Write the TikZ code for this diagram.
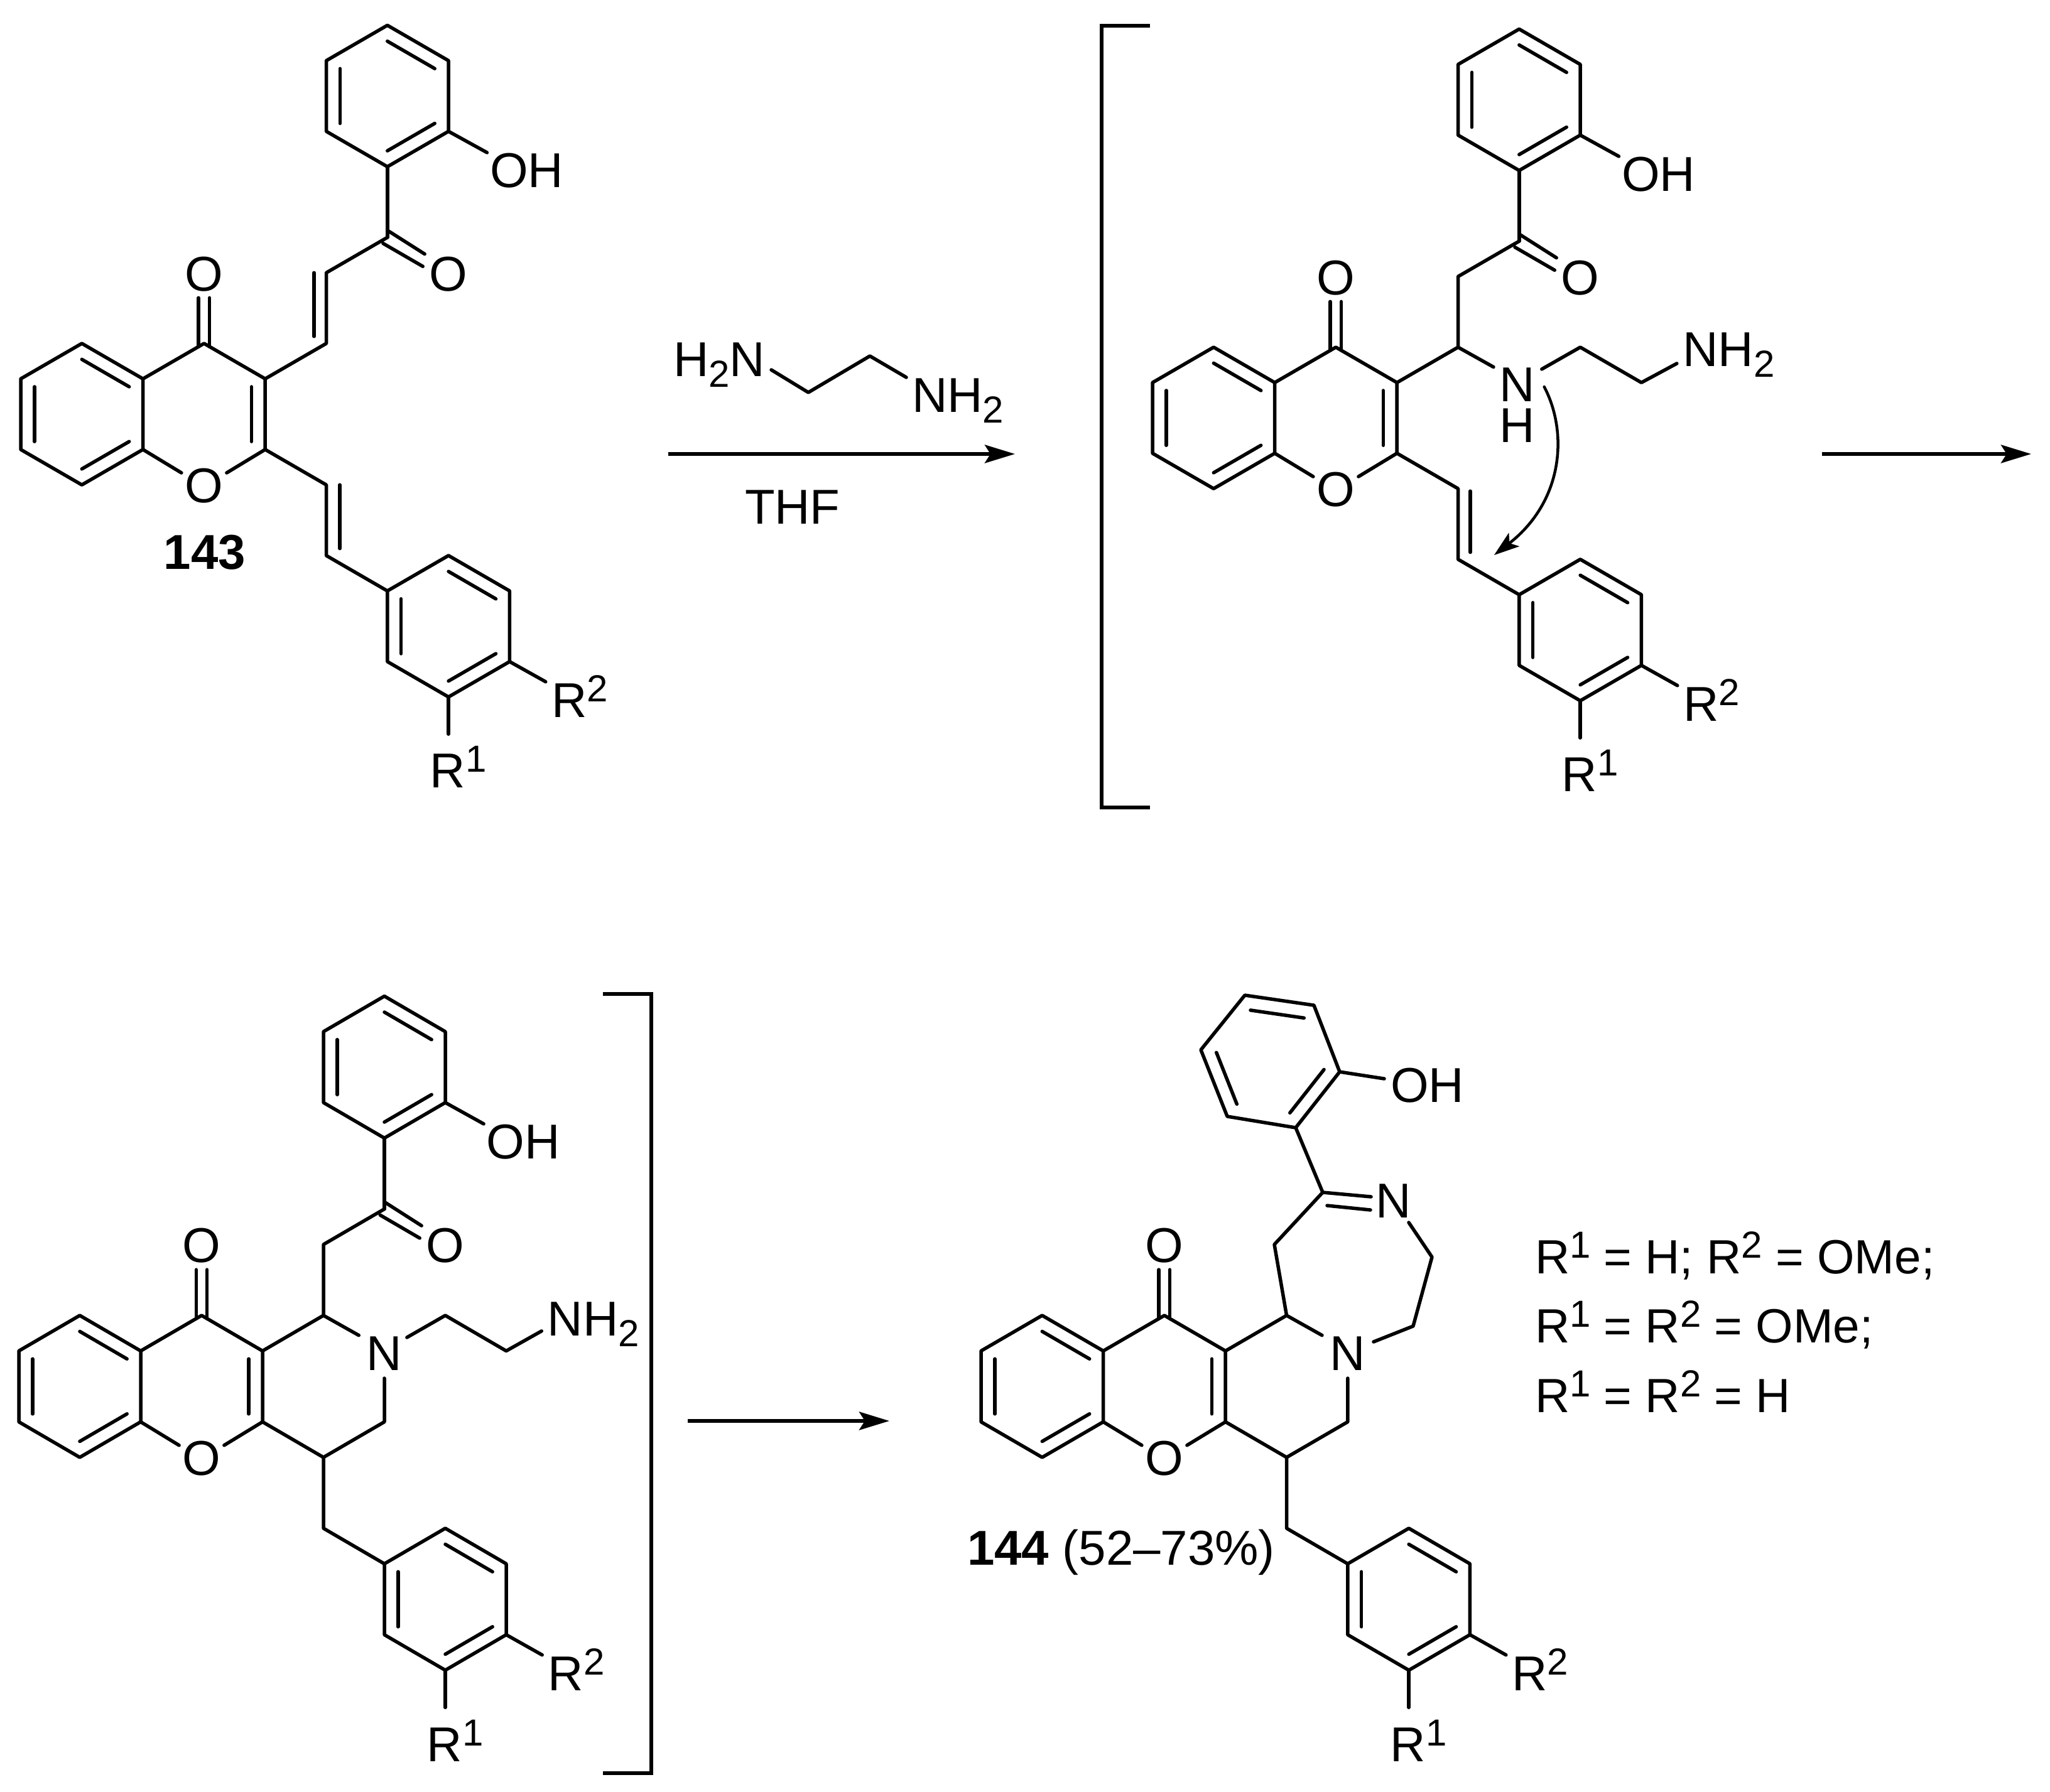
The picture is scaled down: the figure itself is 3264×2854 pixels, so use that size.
\documentclass[tikz,border=0pt]{standalone}
\usepackage{fontspec}
\setmainfont{Liberation Sans}
\usetikzlibrary{calc,arrows.meta}
\newcommand\chemsize{\fontsize{78}{86}\selectfont}
\newcommand\smallsize{\fontsize{60}{60}\selectfont}
\newcommand\upnum[1]{\raisebox{25pt}{\smallsize #1}}
\newcommand\lownum[1]{\raisebox{-17pt}{\smallsize #1}}
\tikzset{
  bond/.style={line width=5.5pt,line cap=round,line join=round},
  lab/.style={inner sep=0pt,outer sep=0pt,anchor=base west,font=\chemsize},
  clab/.style={inner sep=0pt,outer sep=0pt,anchor=base,font=\chemsize},
  rxn/.style={line width=5.5pt,-{Stealth[length=48pt,width=29pt,inset=9pt]}},
  brk/.style={line width=5.5pt,line cap=butt,line join=miter},
  latt/.style={x=97.3pt,y=-56.3pt}
}
\newcommand\hexin[3]{\draw[bond] ($(#1)!.225!(#3)$) -- ($(#2)!.225!(#3)$);}
% fused benzo + pyranone core
\newcommand\chromcore[1]{
  \coordinate (#1a1) at (0,1); \coordinate (#1a2) at (1,0); \coordinate (#1a3) at (2,1);
  \coordinate (#1a4) at (2,3); \coordinate (#1a5) at (1,4); \coordinate (#1a6) at (0,3);
  \coordinate (#1c4) at (3,0); \coordinate (#1c3) at (4,1); \coordinate (#1c2) at (4,3);
  \coordinate (#1ca) at (1,2); \coordinate (#1cb) at (3,2);
  \coordinate (#1oa) at (2.63,3.66); \coordinate (#1ob) at (3.37,3.66);
  \draw[bond] (#1a1)--(#1a2)--(#1a3)--(#1a4)--(#1a5)--(#1a6)--cycle;
  \draw[bond] (#1a3)--(#1c4)--(#1c3)--(#1c2)--(#1ob);
  \draw[bond] (#1a4)--(#1oa);
  \hexin{#1a1}{#1a6}{#1ca} \hexin{#1a2}{#1a3}{#1ca} \hexin{#1a4}{#1a5}{#1ca}
  \hexin{#1c3}{#1c2}{#1cb}
  \draw[bond] (2.91,.09)--(2.91,-1.29);
  \draw[bond] (3.09,.09)--(3.09,-1.29);
  \node[clab] (#1Oring) at (3,4.51) {O};
  \node[clab] (#1Oket) at (3,-1.49) {O};
}
% lower aryl ring with R1, R2; starts from coordinate b1 at (6,7)
\newcommand\lowerring[1]{
  \coordinate (#1b1) at (6,7); \coordinate (#1b2) at (7,6); \coordinate (#1b3) at (8,7);
  \coordinate (#1b4) at (8,9); \coordinate (#1b5) at (7,10); \coordinate (#1b6) at (6,9);
  \coordinate (#1cc) at (7,8);
  \coordinate (#1r2) at (8.59,9.57); \coordinate (#1r1) at (7,11.05);
  \draw[bond] (#1b1)--(#1b2)--(#1b3)--(#1b4)--(#1b5)--(#1b6)--cycle;
  \hexin{#1b1}{#1b6}{#1cc} \hexin{#1b2}{#1b3}{#1cc} \hexin{#1b4}{#1b5}{#1cc}
  \draw[bond] (#1b4)--(#1r2);
  \draw[bond] (#1b5)--(#1r1);
  \node[lab] (#1Rtwo) at (8.69,10.58) {R\upnum{2}};
  \node[lab] (#1Rone) at (6.70,12.57) {R\upnum{1}};
}
% upper hydroxyphenyl ketone, from carbonyl carbon (6,-3)
\newcommand\upperring[1]{
  \coordinate (#1k) at (6,-3);
  \coordinate (#1u1) at (6,-5); \coordinate (#1u2) at (7,-6); \coordinate (#1u3) at (7,-8);
  \coordinate (#1u4) at (6,-9); \coordinate (#1u5) at (5,-8); \coordinate (#1u6) at (5,-6);
  \coordinate (#1cu) at (6,-7); \coordinate (#1oh) at (7.63,-5.4);
  \draw[bond] (#1u1)--(#1u2)--(#1u3)--(#1u4)--(#1u5)--(#1u6)--cycle;
  \hexin{#1u3}{#1u4}{#1cu} \hexin{#1u5}{#1u6}{#1cu} \hexin{#1u1}{#1u2}{#1cu}
  \draw[bond] (#1k)--(#1u1);
  \draw[bond] (#1u2)--(#1oh);
  \draw[bond] (6,-3.2)--(6.61,-2.53);
  \draw[bond] (5.93,-2.83)--(6.58,-2.18);
  \node[lab] (#1OH) at (7.68,-4.42) {OH};
  \node[clab] (#1Oc) at (7,-1.49) {O};
}
\begin{document}
\begin{tikzpicture}[x=1pt,y=-1pt]
\useasboundingbox (0,0) rectangle (3264,2854);
% ---------- compound 143
\begin{scope}[shift={(33,547)},latt]
  \chromcore{A}
  \upperring{A}
  \lowerring{A}
  \coordinate (Av1) at (5,0); \coordinate (Av2) at (5,-2);
  \coordinate (Aw1) at (5,4); \coordinate (Aw2) at (5,6);
  \draw[bond] (Ac3)--(Av1)--(Av2)--(Ak);
  \draw[bond] (4.8,-2)--(4.8,-.2);
  \draw[bond] (Ac2)--(Aw1)--(Aw2)--(Ab1);
  \draw[bond] (5.22,4)--(5.22,5.8);
  \node[clab,font=\chemsize\bfseries] (n143) at (3.01,6.38) {143};
\end{scope}
% ---------- reagent
\node[lab] (h2n) at (1072,599) {H\lownum{2}N};
\coordinate (e1) at (1228,589); \coordinate (e2) at (1287,625);
\coordinate (e3) at (1385,567); \coordinate (e4) at (1443,601);
\draw[bond] (e1)--(e2)--(e3)--(e4);
\node[lab] (nh2a) at (1452,656) {NH\lownum{2}};
\coordinate (r1s) at (1064,723); \coordinate (r1e) at (1616,723);
\draw[rxn] (r1s)--(r1e);
\node[lab] (thf) at (1186,834) {THF};
% ---------- left bracket
\coordinate (bl1) at (1831,41); \coordinate (bl2) at (1754,41);
\coordinate (bl3) at (1754,1286); \coordinate (bl4) at (1831,1286);
\draw[brk] (bl1)--(bl2)--(bl3)--(bl4);
% ---------- intermediate 1
\begin{scope}[shift={(1835,553)},latt]
  \chromcore{B}
  \upperring{B}
  \lowerring{B}
  \coordinate (Bv1) at (5,0); \coordinate (Bv2) at (5,-2);
  \coordinate (Bw1) at (5,4); \coordinate (Bw2) at (5,6);
  \draw[bond] (Bc3)--(Bv1)--(Bv2)--(Bk);
  \draw[bond] (Bc2)--(Bw1)--(Bw2)--(Bb1);
  \draw[bond] (5.2,4.07)--(5.2,5.8);
  \coordinate (Bn1) at (5.58,.56); \coordinate (Bn2) at (6.37,.62);
  \coordinate (Bn3) at (7,0); \coordinate (Bn4) at (8,1); \coordinate (Bn5) at (8.58,.46);
  \draw[bond] (Bv1)--(Bn1);
  \draw[bond] (Bn2)--(Bn3)--(Bn4)--(Bn5);
  \node[clab,text height=56pt,text depth=0pt] (BN) at (5.97,1.53) {N};
  \node[clab,text height=56pt,text depth=0pt] (BH) at (5.97,2.69) {H};
  \node[lab] (BNH) at (8.68,.55) {NH\lownum{2}};
  \coordinate (Bcs) at (6.41,1.12); \coordinate (Bct) at (5.59,5.88);
  \draw[line width=4.5pt,line cap=round,-{Stealth[length=40pt,width=27pt,inset=9pt]}]
     (Bcs) .. controls (6.8,2.4) and (6.73,4.35) .. (Bct);
\end{scope}
% ---------- arrow 2
\coordinate (r2s) at (2901,723); \coordinate (r2e) at (3234,723);
\draw[rxn] (r2s)--(r2e);
% ---------- intermediate 2
\begin{scope}[shift={(30,2095)},x=97pt,y=-56.5pt]
  \chromcore{C}
  \upperring{C}
  \lowerring{C}
  \coordinate (Cv1) at (5,0); \coordinate (Cv2) at (5,-2);
  \coordinate (Cw1) at (5,4); \coordinate (Cw2) at (5,6);
  \coordinate (Cn1) at (5.58,.56); \coordinate (Cn2) at (6.37,.62);
  \coordinate (Cn3) at (7,0); \coordinate (Cn4) at (8,1); \coordinate (Cn5) at (8.58,.44);
  \coordinate (Cm1) at (6,1.77); \coordinate (Cm2) at (6,3);
  \draw[bond] (Cc3)--(Cv1)--(Cv2)--(Ck);
  \draw[bond] (Cc2)--(Cw1)--(Cw2)--(Cb1);
  \draw[bond] (Cw1)--(Cm2)--(Cm1);
  \draw[bond] (Cv1)--(Cn1);
  \draw[bond] (Cn2)--(Cn3)--(Cn4)--(Cn5);
  \node[clab] (CN) at (6,1.54) {N};
  \node[lab] (CNH) at (8.68,.58) {NH\lownum{2}};
\end{scope}
% ---------- right bracket
\coordinate (br1) at (960,1583); \coordinate (br2) at (1037,1583);
\coordinate (br3) at (1037,2824); \coordinate (br4) at (960,2824);
\draw[brk] (br1)--(br2)--(br3)--(br4);
% ---------- arrow 3
\coordinate (r3s) at (1095,2263); \coordinate (r3e) at (1416,2263);
\draw[rxn] (r3s)--(r3e);
% ---------- product 144
\begin{scope}[shift={(1562,2095)},x=97.3pt,y=-56.5pt]
  \chromcore{D}
  \lowerring{D}
  \coordinate (Dv1) at (5,0);
  \coordinate (Dw1) at (5,4); \coordinate (Dw2) at (5,6);
  \coordinate (Dn1) at (5.58,.56); 
  \coordinate (Dm1) at (6,1.77); \coordinate (Dm2) at (6,3);
  \draw[bond] (Dc3)--(Dv1)--(Dn1);
  \draw[bond] (Dc2)--(Dw1)--(Dw2)--(Db1);
  \draw[bond] (Dw1)--(Dm2)--(Dm1);
  \node[clab] (DN) at (6,1.54) {N};
\end{scope}
\coordinate (Dp1) at (2029,1982); \coordinate (Dp2) at (2106,1899);
\coordinate (Dp3) at (2183,1906); \coordinate (Dp4) at (2113,1920); \coordinate (Dp5) at (2182,1927);
\coordinate (Dp6) at (2243,1947); \coordinate (Dp7) at (2280,2002); \coordinate (Dp8) at (2250,2112);
\coordinate (Dp9) at (2187,2137);
\draw[bond] (Dv1)--(Dp1)--(Dp2)--(Dp3);
\draw[bond] (Dp4)--(Dp5);
\draw[bond] (Dp6)--(Dp7)--(Dp8)--(Dp9);
\node[lab] (DN2) at (2190,1939) {N};
\coordinate (Dq1) at (2063,1796); \coordinate (Dq2) at (2133,1707); \coordinate (Dq3) at (2092,1601);
\coordinate (Dq4) at (1982,1585); \coordinate (Dq5) at (1912,1672); \coordinate (Dq6) at (1954,1778);
\coordinate (Dqc) at (2022,1691); \coordinate (Dqh) at (2204,1718);
\draw[bond] (Dp2)--(Dq1);
\draw[bond] (Dq1)--(Dq2)--(Dq3)--(Dq4)--(Dq5)--(Dq6)--cycle;
\hexin{Dq1}{Dq2}{Dqc} \hexin{Dq3}{Dq4}{Dqc} \hexin{Dq5}{Dq6}{Dqc}
\draw[bond] (Dq2)--(Dqh);
\node[lab] (DOH) at (2214,1755) {OH};
\node[lab] (n144) at (1540,2492) {\textbf{144} (52–73\%)};
\node[lab,font=\fontsize{76.5}{80}\selectfont] (t1) at (2444,2028) {R\upnum{1} = H; R\upnum{2} = OMe;};
\node[lab,font=\fontsize{76.5}{80}\selectfont] (t2) at (2444,2138) {R\upnum{1} = R\upnum{2} = OMe;};
\node[lab,font=\fontsize{76.5}{80}\selectfont] (t3) at (2444,2249) {R\upnum{1} = R\upnum{2} = H};
\end{tikzpicture}
\end{document}
